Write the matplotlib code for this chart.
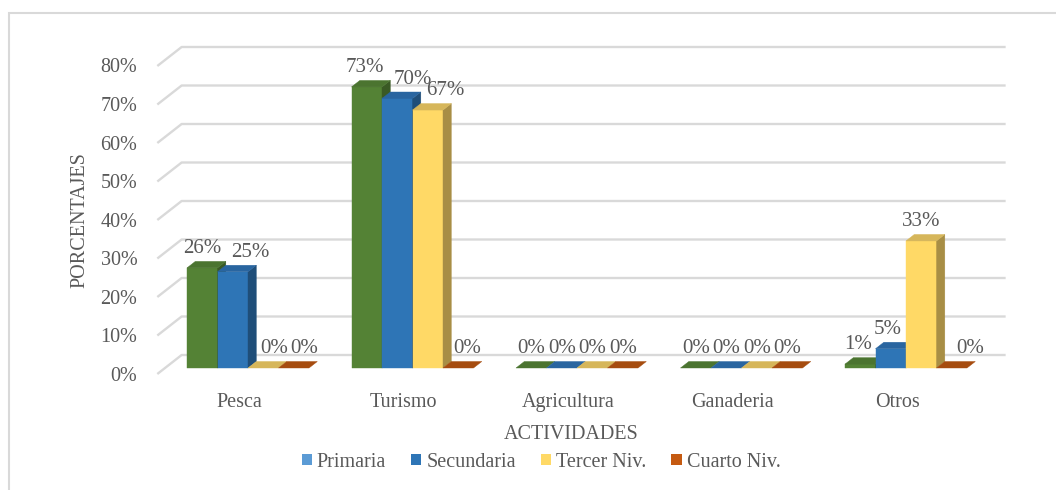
import matplotlib.pyplot as plt
from matplotlib.patches import Polygon, Rectangle, Patch

categories = ["Pesca", "Turismo", "Agricultura", "Ganaderia", "Otros"]
series_names = ["Primaria", "Secundaria", "Tercer Niv.", "Cuarto Niv."]
primaria = [26, 73, 0, 0, 1]
secundaria = [25, 70, 0, 0, 5]
tercer = [0, 67, 0, 0, 33]
cuarto = [0, 0, 0, 0, 0]
y_ticks = [0, 10, 20, 30, 40, 50, 60, 70, 80]

series = [primaria, secundaria, tercer, cuarto]

# bar colours (front, top, side) and legend colours (they differ in the original)
bar_colors = [
    ("#548235", "#4B7430", "#3A5A25"),
    ("#2E75B6", "#2965A0", "#1F4E79"),
    ("#FFD966", "#D6B65A", "#A88E45"),
    ("#C55A11", "#A64C0F", "#8A3F0C"),
]
legend_colors = ["#5B9BD5", "#2E75B6", "#FFD966", "#C55A11"]

# small horizontal nudges of the value labels, in pixels (Excel moves them to avoid overlap)
label_nudge = [
    [0, 18, 11, 10],
    [-2, 16, 18, 9],
    [0, 0, 0, 0],
    [0, 0, 0, 0],
    [-2, -3, 0, 18],
]

plt.rcParams['font.family'] = ['Liberation Serif', 'DejaVu Serif']
TXT = '#595959'
GRID = '#D9D9D9'

W, H = 1056, 490
fig = plt.figure(figsize=(W / 100, H / 100), dpi=100)

# pixel layout of the front plane of the bars
PX_X = 164.5   # px per category
PX_Y = 3.85    # px per percent
X0 = 248       # px of first group centre
Y0 = 368       # px from top of 0 % on the bar front plane
xlim = (-0.6, 4.6)
ylim = (-3, 84)
left = X0 + xlim[0] * PX_X
right = X0 + xlim[1] * PX_X
top = Y0 - ylim[1] * PX_Y
bottom = Y0 - ylim[0] * PX_Y
ax = fig.add_axes([left / W, 1 - bottom / H, (right - left) / W, (bottom - top) / H])
ax.set_xlim(xlim)
ax.set_ylim(ylim)
ax.axis('off')


def depth(t):
    # oblique offset for a depth of t pixels (up and to the right)
    return 1.28 * t / PX_X, t / PX_Y


# walls: gridlines on the side wall and back wall
xl = (165 - X0) / PX_X
xr = (989 - X0) / PX_X
fx, fy = depth(-6)
bx, by = depth(13)
for v in y_ticks:
    ax.plot([xl + fx, xl + bx, xr + bx], [v + fy, v + by, v + by],
            color=GRID, lw=1.7, clip_on=False, zorder=1, solid_capstyle='butt')
    ax.annotate(f"{v}%", xy=(xl + fx, v + fy), xytext=(-20, -2),
                textcoords='offset pixels', ha='right', va='center',
                fontsize=14.5, color=TXT)

# bars
w = 30.5 / PX_X
dx, dy = depth(6.5)
for j, vals in enumerate(series):
    front, topc, side = bar_colors[j]
    for i, v in enumerate(vals):
        x0 = i + (j - 2) * w
        if v > 0:
            ax.add_patch(Rectangle((x0, 0), w, v, facecolor=front,
                                   edgecolor=front, lw=0.3, zorder=3))
            ax.add_patch(Polygon([(x0 + w, 0), (x0 + w, v), (x0 + w + dx, v + dy),
                                  (x0 + w + dx, dy)], closed=True,
                                 facecolor=side, edgecolor=side, lw=0.3, zorder=3))
        ax.add_patch(Polygon([(x0, v), (x0 + w, v), (x0 + w + dx, v + dy),
                              (x0 + dx, v + dy)], closed=True,
                             facecolor=topc, edgecolor=topc, lw=0.3, zorder=3))
        ax.annotate(f"{v}%", xy=(x0 + w / 2, v + dy),
                    xytext=(label_nudge[i][j], 8.5), textcoords='offset pixels',
                    ha='center', va='baseline', fontsize=15, color=TXT, zorder=4)

# category labels
for i, cat in enumerate(categories):
    ax.annotate(cat, xy=(i, 0), xytext=(-9, -39), textcoords='offset pixels',
                ha='center', va='baseline', fontsize=14.5, color=TXT)

fig.text(571 / W, 1 - 439 / H, "ACTIVIDADES", ha='center', va='baseline',
         fontsize=14.5, color=TXT)
fig.text(80 / W, 1 - 220 / H, "PORCENTAJES", rotation=90, ha='center',
         va='center', fontsize=14.5, color=TXT)

handles = [Patch(facecolor=c, edgecolor='none') for c in legend_colors]
fig.legend(handles, series_names, loc='center', bbox_to_anchor=(541 / W, 1 - 462 / H),
           ncol=4, frameon=False, fontsize=14.5, handlelength=0.5, handleheight=0.5,
           handletextpad=0.25, columnspacing=1.25, labelcolor=TXT, borderpad=0)

# outer chart frame (right and bottom edges fall outside the picture)
fig.add_artist(Rectangle((9 / W, -0.05), 1.2, 1 - 13 / H + 0.05,
                         transform=fig.transFigure, fill=False, ec=GRID, lw=1.5))

fig.savefig('out.png', dpi=100)
